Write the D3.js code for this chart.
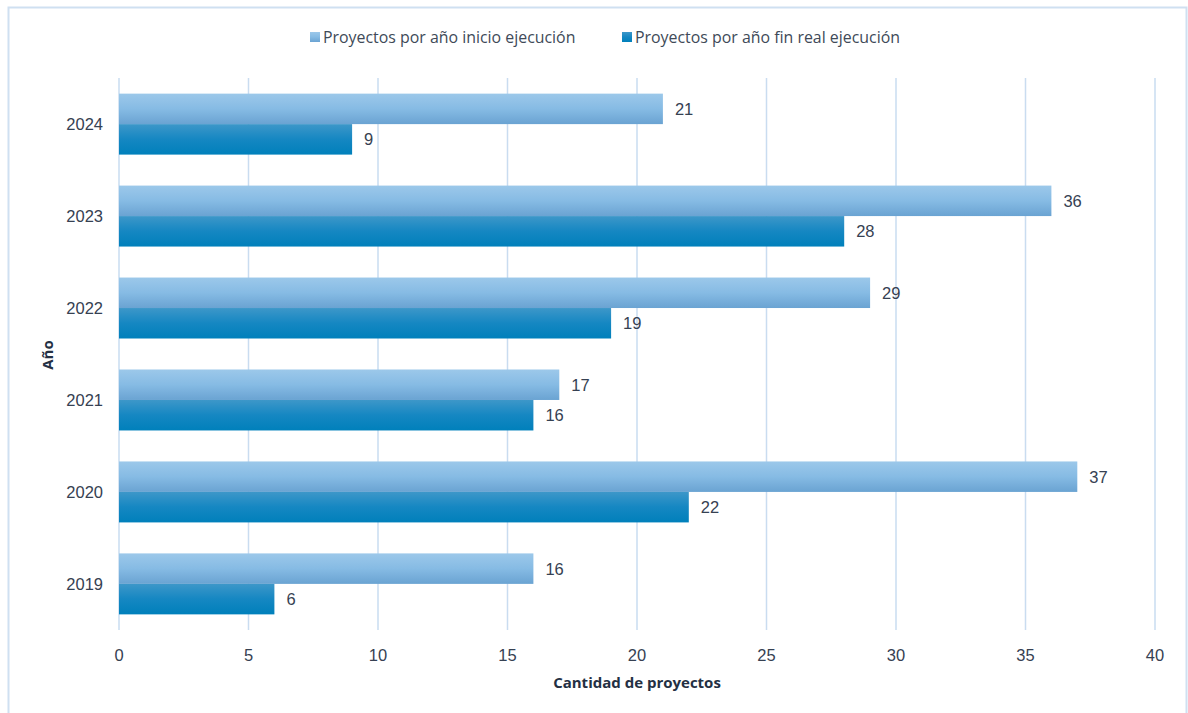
<!DOCTYPE html>
<html>
<head>
<meta charset="utf-8">
<script src="https://cdn.jsdelivr.net/npm/d3@7"></script>
<style>
  body { margin: 0; background: #fff; }
  svg { display: block; }
</style>
</head>
<body>
<div id="chart"></div>
<script>
// data
var years = ["2024", "2023", "2022", "2021", "2020", "2019"];
var inicio = [21, 36, 29, 17, 37, 16];
var finReal = [9, 28, 19, 16, 22, 6];
var seriesNames = ["Proyectos por año inicio ejecución", "Proyectos por año fin real ejecución"];
var xTicks = [0, 5, 10, 15, 20, 25, 30, 35, 40];

var W = 1188, H = 713;
var svg = d3.select("#chart").append("svg").attr("width", W).attr("height", H);

var defs = svg.append("defs");
function grad(id, stops) {
    var g = defs.append("linearGradient").attr("id", id)
        .attr("x1", 0).attr("y1", 0).attr("x2", 0).attr("y2", 1);
    stops.forEach(function(s) {
        g.append("stop").attr("offset", s[0]).attr("stop-color", s[1]);
    });
}
grad("gLight", [[0, "#9cc8ea"], [0.5, "#86bbe4"], [1, "#6aa3d2"]]);
grad("gDark", [[0, "#3d97c9"], [0.5, "#1587c2"], [1, "#0080bb"]]);

// frame
svg.append("rect").attr("x", 8.5).attr("y", 7.5).attr("width", 1178).attr("height", 720)
    .attr("fill", "none").attr("stroke", "#cfe0f1").attr("stroke-width", 2);

var x = d3.scaleLinear().domain([0, 40]).range([119, 1155]);
var y = d3.scaleBand().domain(years).range([78, 630]).paddingInner(0.337).paddingOuter(0.17);

// gridlines
svg.append("g").selectAll("line").data(xTicks).enter().append("line")
    .attr("x1", function(d){ return x(d); }).attr("x2", function(d){ return x(d); })
    .attr("y1", 78).attr("y2", 630)
    .attr("stroke", "#c9dcf0").attr("stroke-width", 1.5);

var bh = y.bandwidth() / 2;

var rows = svg.append("g").selectAll("g").data(years).enter().append("g")
    .attr("transform", function(d){ return "translate(0," + y(d) + ")"; });

rows.append("rect").attr("x", x(0)).attr("y", 0)
    .attr("width", function(d, i){ return x(inicio[i]) - x(0); })
    .attr("height", bh).attr("fill", "url(#gLight)");
rows.append("rect").attr("x", x(0)).attr("y", bh)
    .attr("width", function(d, i){ return x(finReal[i]) - x(0); })
    .attr("height", bh).attr("fill", "url(#gDark)");

var lblFont = "'Liberation Sans', Arial, sans-serif";
var txtCol = "#364152";
rows.append("text").attr("x", function(d, i){ return x(inicio[i]) + 12; })
    .attr("y", bh / 2).attr("dy", "0.36em")
    .attr("font-family", lblFont).attr("font-size", 16.5).attr("fill", txtCol)
    .text(function(d, i){ return inicio[i]; });
rows.append("text").attr("x", function(d, i){ return x(finReal[i]) + 12; })
    .attr("y", bh * 1.5).attr("dy", "0.36em")
    .attr("font-family", lblFont).attr("font-size", 16.5).attr("fill", txtCol)
    .text(function(d, i){ return finReal[i]; });

// y labels
svg.append("g").selectAll("text").data(years).enter().append("text")
    .attr("x", 103).attr("y", function(d){ return y(d) + bh; }).attr("dy", "0.36em")
    .attr("text-anchor", "end").attr("font-family", lblFont).attr("font-size", 16.5)
    .attr("fill", txtCol).text(function(d){ return d; });

// x tick labels
svg.append("g").selectAll("text").data(xTicks).enter().append("text")
    .attr("x", function(d){ return x(d); }).attr("y", 661)
    .attr("text-anchor", "middle").attr("font-family", lblFont).attr("font-size", 16.5)
    .attr("fill", txtCol).text(function(d){ return d; });

// axis titles
svg.append("text").attr("x", 637).attr("y", 688).attr("text-anchor", "middle")
    .attr("font-family", "'Open Sans', sans-serif").attr("font-weight", "bold").attr("font-size", 15)
    .attr("fill", "#243043").text("Cantidad de proyectos");
svg.append("text").attr("transform", "translate(53,355) rotate(-90)").attr("text-anchor", "middle")
    .attr("font-family", "'Open Sans', sans-serif").attr("font-weight", "bold").attr("font-size", 15)
    .attr("fill", "#243043").text("Año");

// legend
var legX = [310, 622], fills = ["url(#gLight)", "url(#gDark)"];
var leg = svg.append("g").selectAll("g").data(seriesNames).enter().append("g")
    .attr("transform", function(d, i){ return "translate(" + legX[i] + ",32)"; });
leg.append("rect").attr("x", 0).attr("y", 0).attr("width", 10).attr("height", 10)
    .attr("fill", function(d, i){ return fills[i]; });
leg.append("text").attr("x", 13).attr("y", 5).attr("dy", "0.36em")
    .attr("font-family", "'Open Sans', sans-serif").attr("font-size", 15.9).attr("fill", "#404a58")
    .text(function(d){ return d; });
</script>
</body>
</html>
